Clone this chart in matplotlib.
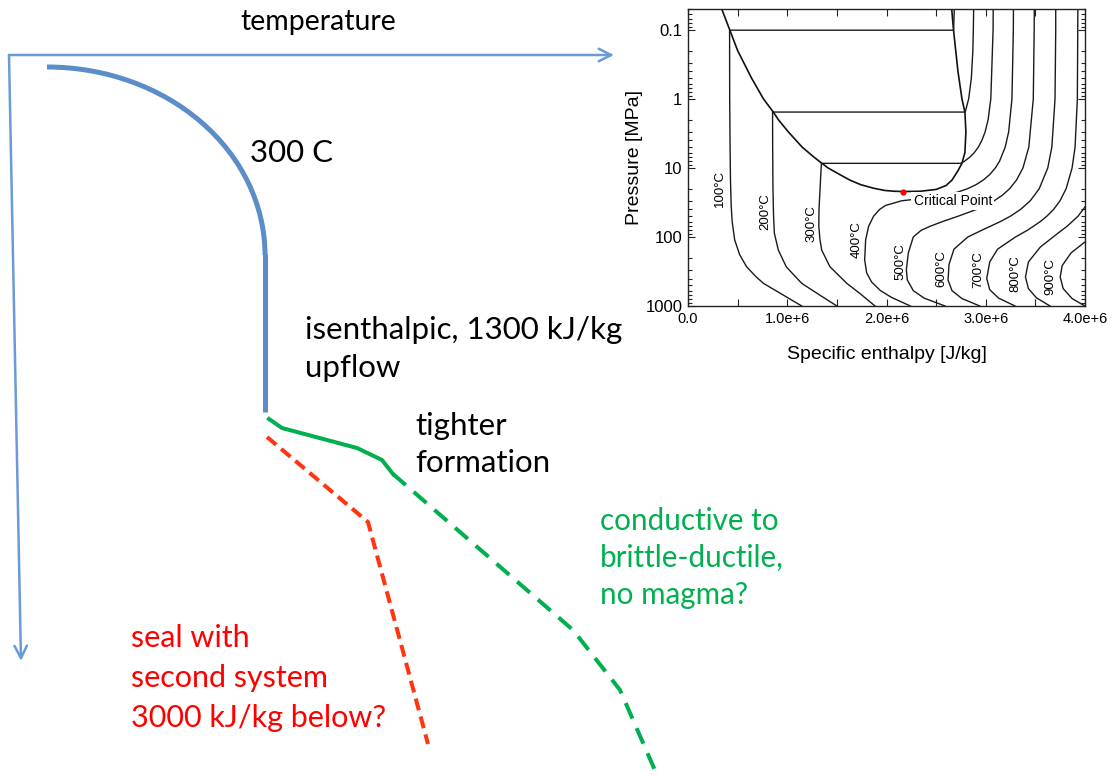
import numpy as np
import matplotlib
matplotlib.use("Agg")
import matplotlib.pyplot as plt
from matplotlib.patches import Arc
from matplotlib.ticker import FixedLocator, FixedFormatter, LogLocator, NullFormatter

# ---- schematic (pixel-like units: x = temperature, y = depth) ----
temp_axis_x = [9, 614]
temp_axis_y = [55, 55]
depth_axis_x = [9, 21]
depth_axis_y = [55, 661]

# 300 C upflow: quarter ellipse (centre, full width/height) then isenthalpic drop
upflow_arc_center = (47, 255)
upflow_arc_size = (436, 376)
upflow_x = [265, 265]
upflow_y = [254, 412]

tight_x = [269, 282, 357, 382, 393]
tight_y = [419, 428, 448, 460, 474]

conductive_x = [393, 573, 620, 657]
conductive_y = [474, 630, 690, 775]

seal_x = [267, 368, 428]
seal_y = [437, 522, 744]

# ---- inset: water P-h diagram (h in MJ/kg, P in MPa) ----
dome_liq_h = [0.34, 0.42, 0.50, 0.64, 0.76, 0.86, 0.91, 1.01, 1.15, 1.27, 1.35, 1.41, 1.53, 1.63, 1.74, 1.87, 1.98, 2.08, 2.17]
dome_liq_p = [0.05, 0.1, 0.2, 0.5, 1.0, 1.56, 2.0, 3.0, 5.0, 7.0, 8.6, 10, 12.5, 15, 17.5, 19.7, 21.2, 21.8, 22.0]
dome_vap_h = [2.17, 2.34, 2.50, 2.60, 2.66, 2.72, 2.76, 2.79, 2.80, 2.79, 2.76, 2.72, 2.675, 2.657]
dome_vap_p = [22.0, 21.8, 20.5, 18, 15, 11, 8.6, 6, 3, 1.56, 1.0, 0.4, 0.1, 0.05]
crit_h = 2.17
crit_p = 22.0

iso_labels = ["100°C", "200°C", "300°C", "400°C", "500°C", "600°C", "700°C", "800°C", "900°C"]
iso_h = [
    [2.683, 2.676, 0.419, 0.420, 0.424, 0.428, 0.435, 0.445, 0.47, 0.52, 0.59, 0.68, 0.76, 0.85, 0.93, 1.146],
    [2.878, 2.875, 2.870, 2.855, 2.828, 2.793, 0.852, 0.853, 0.856, 0.862, 0.87, 0.91, 0.99, 1.07, 1.146, 1.30, 1.50],
    [3.075, 3.074, 3.051, 3.024, 2.994, 2.961, 2.925, 2.885, 2.839, 2.786, 2.749, 1.344, 1.335, 1.32, 1.318,
     1.33, 1.347, 1.43, 1.60, 1.73, 1.884],
    [3.279, 3.278, 3.264, 3.231, 3.196, 3.139, 3.097, 3.040, 2.975, 2.902, 2.818, 2.714, 2.578, 2.42, 2.15,
     1.99, 1.93, 1.87, 1.82, 1.79, 1.78, 1.80, 1.85, 1.94, 2.05, 2.24],
    [3.489, 3.488, 3.479, 3.434, 3.375, 3.310, 3.241, 3.165, 3.084, 2.997, 2.906, 2.723, 2.563, 2.44, 2.35,
     2.27, 2.22, 2.20, 2.21, 2.27, 2.38, 2.59],
    [3.705, 3.705, 3.698, 3.666, 3.625, 3.539, 3.448, 3.350, 3.249, 3.146, 2.96, 2.82, 2.68, 2.63, 2.62,
     2.66, 2.76, 2.94],
    [3.928, 3.927, 3.923, 3.900, 3.870, 3.810, 3.748, 3.683, 3.616, 3.549, 3.42, 3.30, 3.12, 3.04, 3.01,
     3.04, 3.13, 3.295],
    [4.0, 3.93, 3.82, 3.72, 3.55, 3.43, 3.40, 3.43, 3.51, 3.647],
    [4.0, 3.86, 3.77, 3.75, 3.78, 3.87, 4.0],
]
iso_p = [
    [0.05, 0.1014, 0.1014, 1, 5, 15, 35, 60, 110, 180, 270, 370, 470, 560, 655, 1000],
    [0.05, 0.1, 0.2, 0.5, 1.0, 1.554, 1.554, 5, 20, 50, 88, 155, 270, 360, 470, 655, 1000],
    [0.05, 0.1, 1, 2, 3, 4, 5, 6, 7, 8, 8.59, 8.59, 15, 40, 70, 110, 155, 270, 470, 655, 1000],
    [0.05, 0.1, 1, 3, 5, 8, 10, 12.5, 15, 17.5, 20, 22.5, 25, 27, 30, 35, 40, 50, 70, 110, 215, 330, 450,
     600, 750, 1000],
    [0.05, 0.1, 1, 5, 10, 15, 20, 25, 30, 35, 40, 50, 60, 70, 80, 100, 170, 300, 420, 600, 770, 1000],
    [0.05, 0.1, 1, 5, 10, 20, 30, 40, 50, 60, 80, 100, 150, 250, 420, 600, 780, 1000],
    [0.05, 0.1, 1, 5, 10, 20, 30, 40, 50, 60, 80, 100, 150, 230, 400, 580, 770, 1000],
    [36.7, 50, 70, 90, 140, 230, 380, 560, 760, 1000],
    [118, 170, 260, 380, 560, 780, 1000],
]
label_h = [0.32, 0.776, 1.246, 1.70, 2.136, 2.556, 2.925, 3.295, 3.647]
label_p = [20, 43, 63, 110, 228, 284, 300, 336, 376]

blue = "#5b8ec9"
axis_blue = "#6a9bd6"
green = "#00b050"
red_line = "#ff3410"
red_text = "#ff0000"

fig = plt.figure(figsize=(11.14, 7.75), dpi=100)
ax = fig.add_axes([0, 0, 1, 1])
ax.set_xlim(0, 1114)
ax.set_ylim(775, 0)
ax.axis("off")

arrow = dict(arrowstyle="->,head_length=0.9,head_width=0.45", color=axis_blue, lw=1.8, shrinkA=0, shrinkB=0)
ax.annotate("", xy=(temp_axis_x[1], temp_axis_y[1]), xytext=(temp_axis_x[0], temp_axis_y[0]), arrowprops=arrow)
ax.annotate("", xy=(depth_axis_x[1], depth_axis_y[1]), xytext=(depth_axis_x[0], depth_axis_y[0]), arrowprops=arrow)

ax.add_patch(Arc(upflow_arc_center, upflow_arc_size[0], upflow_arc_size[1], theta1=270, theta2=360,
                 color=blue, lw=3.6))
ax.plot(upflow_x, upflow_y, color=blue, lw=3.6, solid_capstyle="butt")
ax.plot(tight_x, tight_y, color=green, lw=2.9)
ax.plot(conductive_x, conductive_y, color=green, lw=2.9, dashes=(4.2, 2.6))
ax.plot(seal_x, seal_y, color=red_line, lw=2.9, dashes=(3, 1.6))

font = "Lato"
fs = 22.5
ax.text(240, 30, "temperature", fontsize=20.5, family=font, color="black")
ax.text(250, 162, "300 C", fontsize=fs, family=font, color="black")
for i, line in enumerate(["isenthalpic, 1300 kJ/kg", "upflow"]):
    ax.text(305, 339 + 38 * i, line, fontsize=fs, family=font, color="black")
for i, line in enumerate(["tighter", "formation"]):
    ax.text(415, 435 + 37 * i, line, fontsize=fs, family=font, color="black")
for i, line in enumerate(["conductive to", "brittle-ductile,", "no magma?"]):
    ax.text(600, 530 + 37 * i, line, fontsize=21.3, family=font, color=green)
for i, line in enumerate(["seal with", "second system", "3000 kJ/kg below?"]):
    ax.text(131, 647 + 40 * i, line, fontsize=22, family=font, color=red_text)

# ---- inset ----
ins_font = "Liberation Sans"
axi = fig.add_axes([688 / 1114, 1 - 306 / 775, 397 / 1114, 297 / 775])
axi.set_yscale("log")
axi.set_xlim(0, 4e6)
axi.set_ylim(1000, 0.05)

axi.plot(np.array(dome_liq_h) * 1e6, dome_liq_p, color="#111111", lw=1.2)
axi.plot(np.array(dome_vap_h) * 1e6, dome_vap_p, color="#111111", lw=1.2)
for h, p in zip(iso_h, iso_p):
    axi.plot(np.array(h) * 1e6, p, color="#1a1a1a", lw=1.0)
for lab, h, p in zip(iso_labels, label_h, label_p):
    axi.text(h * 1e6, p, lab, rotation=90, ha="center", va="center", fontsize=9.5, family=ins_font)
axi.text(2.667e6, 29.8, "Critical Point", ha="center", va="center", fontsize=10, family=ins_font,
         bbox=dict(facecolor="white", edgecolor="none", pad=1.5), zorder=5)
axi.plot([crit_h * 1e6], [crit_p], "o", color="red", ms=3.5, zorder=6)

axi.xaxis.set_major_locator(FixedLocator([0, 1e6, 2e6, 3e6, 4e6]))
axi.xaxis.set_major_formatter(FixedFormatter(["0.0", "1.0e+6", "2.0e+6", "3.0e+6", "4.0e+6"]))
axi.xaxis.set_minor_locator(FixedLocator([0.5e6, 1.5e6, 2.5e6, 3.5e6]))
axi.yaxis.set_major_locator(FixedLocator([0.1, 1, 10, 100, 1000]))
axi.yaxis.set_major_formatter(FixedFormatter(["0.1", "1", "10", "100", "1000"]))
axi.yaxis.set_minor_locator(LogLocator(base=10, subs=np.arange(2, 10)))
axi.yaxis.set_minor_formatter(NullFormatter())
axi.tick_params(which="both", direction="in", top=True, right=True, width=0.8, colors="#222222")
axi.tick_params(which="major", length=5, pad=4)
axi.tick_params(axis="x", which="major", labelsize=10.5)
axi.tick_params(axis="y", which="major", labelsize=12)
axi.tick_params(axis="x", which="minor", length=5)
axi.tick_params(axis="y", which="minor", length=3)
for lbl in axi.get_xticklabels() + axi.get_yticklabels():
    lbl.set_family(ins_font)
    lbl.set_color("black")
for s in axi.spines.values():
    s.set_linewidth(1.0)
    s.set_color("#222222")
axi.set_xlabel("Specific enthalpy [J/kg]", fontsize=14, family=ins_font, labelpad=15)
axi.set_ylabel("Pressure [MPa]", fontsize=14, family=ins_font, labelpad=2)

fig.savefig("out.png", dpi=100)
